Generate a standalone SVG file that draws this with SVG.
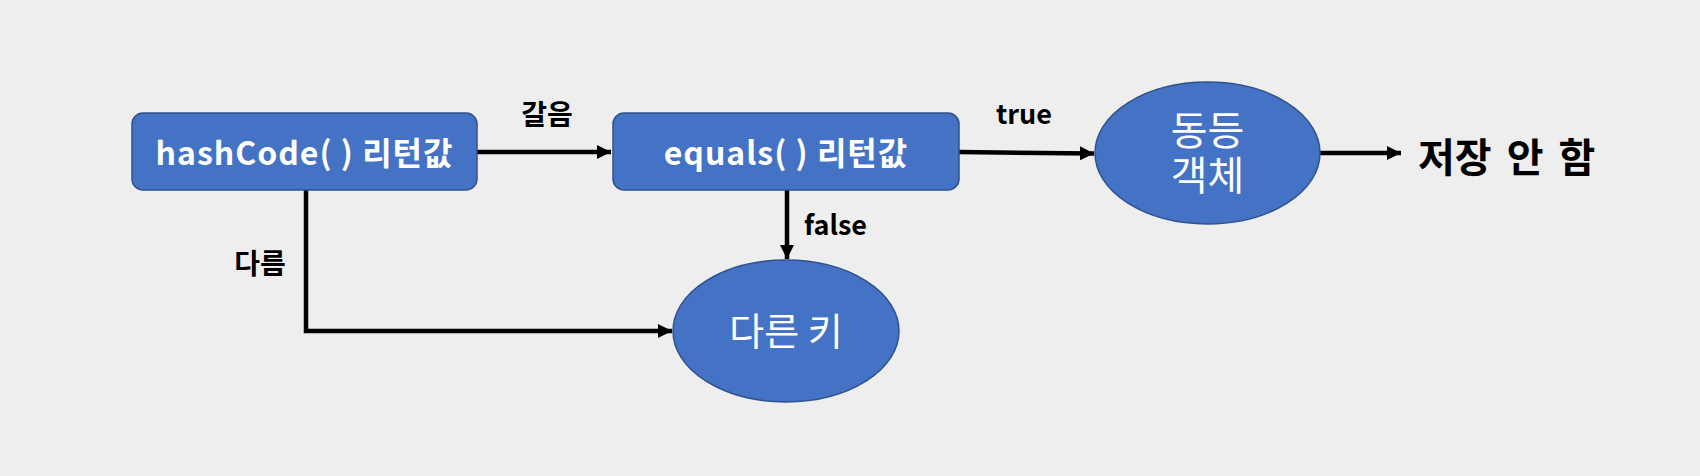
<svg xmlns="http://www.w3.org/2000/svg" width="1700" height="476" viewBox="0 0 1700 476">
<defs>
<marker id="ah" viewBox="0 0 14 14" refX="14" refY="7" markerWidth="14" markerHeight="14" markerUnits="userSpaceOnUse" orient="auto"><path d="M0,0 L14,7 L0,14 Z" fill="#000"/></marker>
<style>
.node{fill:#4472C4;stroke:#2F528F;stroke-width:1.5}
.ntxt{fill:#fff;font-family:"Noto Sans CJK KR","Noto Sans",sans-serif;text-anchor:middle}
.b{font-weight:bold}
.lbl{fill:#000;font-family:"Noto Sans CJK KR","Noto Sans",sans-serif;font-weight:bold}
.conn{fill:none;stroke:#000;stroke-width:4.5}
</style>
</defs>
<rect width="1700" height="476" fill="#EEEEEE"/>
<g id="connectors">
<path class="conn" d="M477,152 L611,152" marker-end="url(#ah)"/>
<path class="conn" d="M959,152 L1094,153.5" marker-end="url(#ah)"/>
<path class="conn" d="M1320,153 L1401,153" marker-end="url(#ah)"/>
<path class="conn" d="M787,190 L787,259" marker-end="url(#ah)"/>
<path class="conn" d="M306,190 L306,331 L672,331" marker-end="url(#ah)"/>
<text class="lbl" x="547" y="125" font-size="28" text-anchor="middle">갈음</text>
<text class="lbl" x="1024" y="124" font-size="27" text-anchor="middle">true</text>
<text class="lbl" x="804" y="235" font-size="27">false</text>
<text class="lbl" x="260" y="274" font-size="28" text-anchor="middle">다름</text>
</g>
<g id="n-hashcode">
<rect class="node" x="132" y="113" width="345" height="77" rx="11"/>
<text class="ntxt b" x="304.5" y="165" font-size="32" letter-spacing="1">hashCode( ) 리턴값</text>
</g>
<g id="n-equals">
<rect class="node" x="613" y="113" width="346" height="77" rx="11"/>
<text class="ntxt b" x="786" y="165" font-size="32" letter-spacing="1">equals( ) 리턴값</text>
</g>
<g id="n-same">
<ellipse class="node" cx="1207.5" cy="153" rx="112.5" ry="71"/>
<text class="ntxt" font-size="40"><tspan x="1207.5" y="145">동등</tspan><tspan x="1207.5" y="190">객체</tspan></text>
</g>
<g id="n-nosave">
<text class="lbl" x="1418" y="172" font-size="40" word-spacing="6">저장 안 함</text>
</g>
<g id="n-diffkey">
<ellipse class="node" cx="786" cy="331" rx="113" ry="71"/>
<text class="ntxt" x="786" y="345" font-size="38">다른 키</text>
</g>
</svg>
